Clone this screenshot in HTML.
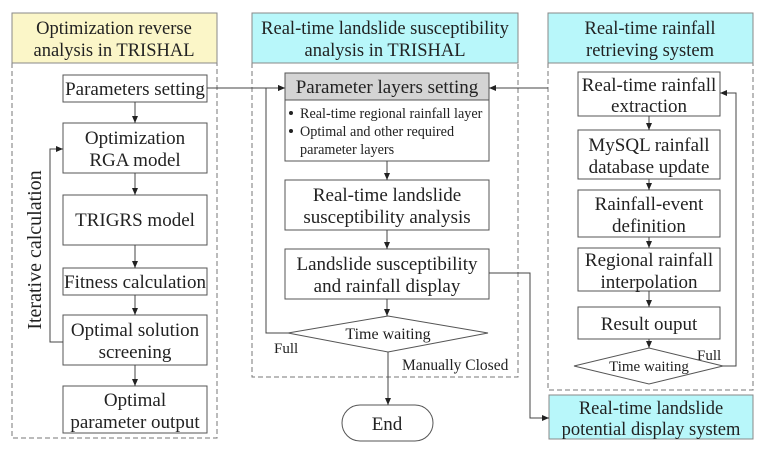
<!DOCTYPE html>
<html><head><meta charset="utf-8"><style>
html,body{margin:0;padding:0;background:#fff;}
svg{display:block;}
text{font-family:"Liberation Serif","Times New Roman",serif;fill:#222;}
</style></head><body>
<svg width="770" height="457" viewBox="0 0 770 457" xmlns="http://www.w3.org/2000/svg">
<defs><marker id="a" markerWidth="8" markerHeight="8" refX="7" refY="4" orient="auto" markerUnits="userSpaceOnUse"><path d="M0,1 L7,4 L0,7 Z" fill="#222"/></marker></defs>
<g stroke="#777" stroke-width="1" fill="none" stroke-dasharray="5,3">
<path d="M12,63 V438 H217 V63"/>
<path d="M252,63 V377 H518 V63"/>
<path d="M548,63 V390 H753 V63"/>
</g>
<g stroke="#888" stroke-width="1">
<rect x="12" y="13" width="205" height="50" fill="#fbf6c8"/>
<rect x="252" y="13" width="266" height="50" fill="#b8f7fa"/>
<rect x="548" y="13" width="205" height="50" fill="#b8f7fa"/>
<rect x="549" y="395" width="204" height="44" fill="#b8f7fa"/>
</g>
<g font-size="18.5" text-anchor="middle">
<text x="114" y="34">Optimization reverse</text><text x="114" y="56">analysis in TRISHAL</text>
<text x="385" y="34">Real-time landslide susceptibility</text><text x="385" y="56">analysis in TRISHAL</text>
<text x="650" y="34">Real-time rainfall</text><text x="650" y="56">retrieving system</text>
<text x="651" y="414">Real-time landslide</text><text x="651" y="435">potential display system</text>
</g>
<g stroke="#555" stroke-width="1" fill="#fff">
<rect x="63" y="75" width="144" height="27"/>
<rect x="63" y="123" width="144" height="50"/>
<rect x="63" y="195" width="144" height="50"/>
<rect x="63" y="268" width="144" height="27"/>
<rect x="63" y="315" width="144" height="50"/>
<rect x="63" y="386" width="144" height="47"/>
<rect x="285" y="73" width="204" height="27" fill="#d4d4d4"/>
<rect x="285" y="100" width="204" height="61"/>
<rect x="285" y="180" width="204" height="50"/>
<rect x="285" y="249" width="204" height="50"/>
<polygon points="288,333 388,316 488,333 388,352"/>
<rect x="342" y="405" width="91" height="36" rx="18"/>
<rect x="578" y="72" width="142" height="44"/>
<rect x="578" y="130" width="142" height="49"/>
<rect x="578" y="190" width="142" height="47"/>
<rect x="578" y="248" width="142" height="43"/>
<rect x="578" y="307" width="142" height="32"/>
<polygon points="574,366 649,348 723,366 649,384"/>
</g>
<g font-size="19" text-anchor="middle">
<text x="135" y="95">Parameters setting</text>
<text x="135" y="144">Optimization</text><text x="135" y="166">RGA model</text>
<text x="135" y="226">TRIGRS model</text>
<text x="135" y="288">Fitness calculation</text>
<text x="135" y="336">Optimal solution</text><text x="135" y="358">screening</text>
<text x="135" y="406">Optimal</text><text x="135" y="428">parameter output</text>
<text x="387" y="93">Parameter layers setting</text>
<text x="387" y="201">Real-time landslide</text><text x="387" y="223">susceptibility analysis</text>
<text x="387" y="270">Landslide susceptibility</text><text x="387" y="292">and rainfall display</text>
<text x="387" y="430">End</text>
<text x="649" y="91">Real-time rainfall</text><text x="649" y="112">extraction</text>
<text x="649" y="151">MySQL rainfall</text><text x="649" y="173">database update</text>
<text x="649" y="210">Rainfall-event</text><text x="649" y="232">definition</text>
<text x="649" y="266">Regional rainfall</text><text x="649" y="288">interpolation</text>
<text x="649" y="330">Result ouput</text>
</g>
<text x="388" y="339" font-size="16" text-anchor="middle">Time waiting</text>
<text x="649" y="371" font-size="15" text-anchor="middle">Time waiting</text>
<text x="274" y="353" font-size="15">Full</text>
<text x="697" y="360" font-size="15">Full</text>
<text x="402" y="370" font-size="15.5">Manually Closed</text>
<g font-size="14.2">
<circle cx="291" cy="113" r="2" fill="#222"/><text x="300" y="118">Real-time regional rainfall layer</text>
<circle cx="291" cy="131" r="2" fill="#222"/><text x="300" y="136">Optimal and other required</text>
<text x="300" y="154">parameter layers</text>
</g>
<text transform="translate(41,250) rotate(-90)" font-size="20" text-anchor="middle">Iterative calculation</text>
<g stroke="#444" stroke-width="1" fill="none" marker-end="url(#a)">
<path d="M135,102 V123"/><path d="M135,173 V195"/><path d="M135,245 V268"/><path d="M135,295 V315"/><path d="M135,365 V386"/>
<path d="M63,342 H50 V149 H63"/>
<path d="M207,88 H285"/>
<path d="M548,88 H489"/>
<path d="M387,161 V180"/><path d="M387,230 V249"/><path d="M387,299 V316"/>
<path d="M288,333 H266 V88 H285"/>
<path d="M388,352 V405"/>
<path d="M489,273 H530 V418 H549"/>
<path d="M649,116 V130"/><path d="M649,179 V190"/><path d="M649,237 V248"/><path d="M649,291 V307"/><path d="M649,339 V348"/>
<path d="M723,366 H736 V93 H720"/>
</g>
</svg>
</body></html>
